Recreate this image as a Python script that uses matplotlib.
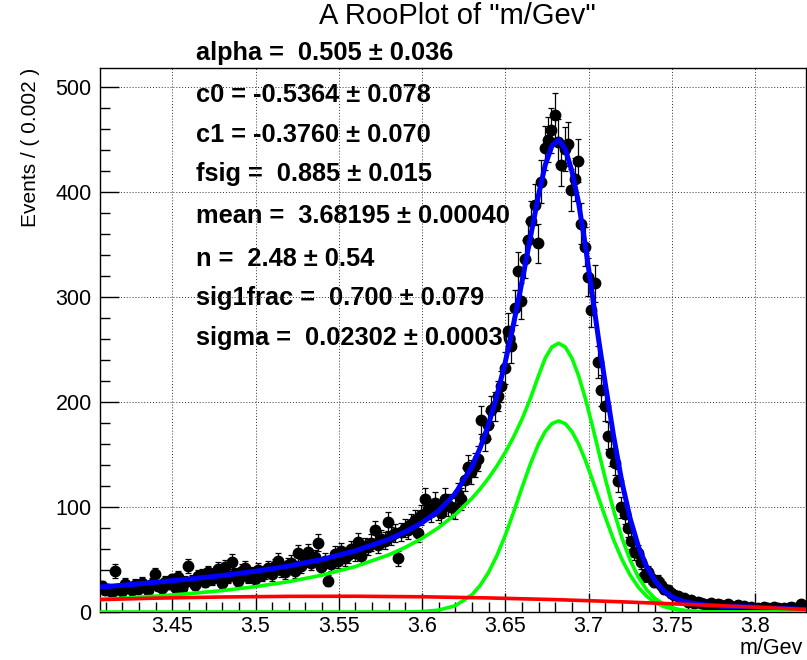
import numpy as np
import matplotlib
matplotlib.use("Agg")
import matplotlib.pyplot as plt
from matplotlib.ticker import MultipleLocator

plt.rcParams['font.family'] = ['Liberation Sans', 'DejaVu Sans']

# binned data: bins of 0.002 starting at x_lo
x_lo = 3.4066
x_hi = 3.8306
bin_width = 0.002
counts = [25, 21, 22, 19, 39, 22, 20, 27, 24, 21,
          26, 22, 28, 24, 21, 27, 36, 25, 23, 29,
          27, 31, 24, 33, 23, 29, 44, 30, 26, 34,
          35, 29, 38, 31, 34, 41, 28, 43, 33, 48,
          36, 30, 39, 42, 33, 37, 31, 40, 35, 38,
          42, 36, 44, 49, 40, 38, 45, 47, 39, 56,
          44, 50, 57, 47, 52, 66, 43, 49, 30, 46,
          55, 49, 58, 51, 54, 60, 56, 67, 53, 63,
          62, 66, 78, 64, 70, 68, 86, 72, 75, 51,
          76, 80, 78, 84, 88, 75, 92, 108, 98, 95,
          104, 97, 94, 108, 102, 100, 99, 112, 108, 126,
          138, 133, 140, 146, 183, 166, 178, 192, 196, 206,
          215, 232, 268, 253, 290, 325, 296, 336, 354, 372,
          388, 351, 410, 442, 450, 459, 473, 448, 426, 441,
          446, 402, 412, 430, 370, 348, 319, 288, 313, 238,
          211, 196, 168, 151, 142, 125, 100, 93, 80, 68,
          57, 56, 48, 34, 38, 32, 29, 30, 26, 22,
          21, 18, 16, 15, 12, 13, 10, 11, 9, 10,
          9, 8, 7, 9, 6, 8, 7, 5, 8, 6,
          5, 7, 4, 6, 3, 5, 2, 4, 3, 5,
          4, 3, 5, 4, 2, 4, 3, 5, 4, 3,
          8, 6]

# fitted curves
curve_x = [3.4066, 3.42, 3.44, 3.46, 3.48, 3.50, 3.52, 3.54, 3.56, 3.58,
           3.59, 3.60, 3.61, 3.62, 3.63, 3.635, 3.64, 3.645, 3.65, 3.655,
           3.66, 3.665, 3.67, 3.674, 3.678, 3.682, 3.686, 3.69, 3.694, 3.698,
           3.702, 3.706, 3.71, 3.715, 3.72, 3.725, 3.73, 3.735, 3.74, 3.745,
           3.75, 3.755, 3.76, 3.77, 3.78, 3.79, 3.80, 3.815, 3.8306]
total_y = [23.8, 25.4, 28.3, 31.3, 34.7, 38.8, 43.8, 50.1, 58.3, 69.2,
           76.4, 85.0, 96.4, 112.9, 138.4, 156.5, 178.9, 206.1, 238.1, 274.7,
           314.4, 356.1, 397.5, 425.8, 443.8, 449.7, 441, 420, 390, 350,
           305, 260, 218, 168, 124, 89, 62, 43, 29.5, 20.5,
           14.7, 11.0, 8.9, 6.7, 5.6, 5.1, 4.6, 3.5, 2.4]
sig1_y = [12.0, 13.1, 15.1, 17.5, 20.4, 24.2, 28.9, 35.1, 43.3, 54.4,
          61.6, 70.1, 80.4, 92.9, 108.3, 117.4, 127.6, 139.1, 152.0, 166.8,
          183.5, 203.0, 225.2, 241.8, 252.4, 256.0, 252.4, 241.8, 225.2, 203.8,
          179.3, 153.3, 127.4, 97.1, 70.8, 49.4, 32.9, 21.0, 12.8, 7.5,
          4.2, 2.2, 1.1, 0.2, 0, 0, 0, 0, 0]
sig2_y = [0, 0, 0, 0, 0, 0, 0, 0, 0, 0,
          0.05, 0.4, 1.8, 6.0, 16.4, 25.5, 37.9, 53.8, 73.1, 95.1,
          118.3, 140.7, 160.1, 171.9, 179.4, 182.0, 179.4, 171.9, 160.1, 144.9,
          127.5, 109.0, 90.6, 69.0, 50.3, 35.1, 23.4, 14.9, 9.1, 5.3,
          3.0, 1.6, 0.8, 0.2, 0, 0, 0, 0, 0]
bkg_x = [3.4066, 3.44, 3.48, 3.52, 3.56, 3.60, 3.64, 3.68, 3.72, 3.76, 3.80, 3.8306]
bkg_y = [11.8, 13.2, 14.3, 14.9, 15.0, 14.5, 13.4, 11.8, 9.7, 7.2, 4.6, 2.4]

param_names = ["alpha", "c0", "c1", "fsig", "mean", "n", "sig1frac", "sigma"]
param_values = [" 0.505", "-0.5364", "-0.3760", " 0.885", " 3.68195", " 2.48", " 0.700", " 0.02302"]
param_errors = ["0.036", "0.078", "0.070", "0.015", "0.00040", "0.54", "0.079", "0.00036"]

W, H = 807, 660
fig = plt.figure(figsize=(W / 100, H / 100), dpi=100)
fig.patch.set_facecolor('white')
ax = fig.add_axes([100 / W, 1 - 612 / H, 706 / W, (612 - 67.7) / H])
ax.set_facecolor('none')

centers = x_lo + bin_width * (np.arange(len(counts)) + 0.5)
counts = np.array(counts)
ax.errorbar(centers, counts, yerr=np.sqrt(counts), fmt='o', color='black',
            markersize=7.5, elinewidth=0.9, capsize=2.5, capthick=0.9, zorder=3)

ax.plot(curve_x, total_y, color='#0000ff', lw=3.6, zorder=4)
ax.plot(curve_x, sig1_y, color='#00ff00', lw=2.6, zorder=4)
ax.plot(curve_x, sig2_y, color='#00ff00', lw=2.6, zorder=4)
ax.plot(bkg_x, bkg_y, color='#ff0000', lw=2.6, zorder=5)

ax.set_xlim(x_lo, x_hi)
ax.set_ylim(0, 518.4)
ax.xaxis.set_major_locator(MultipleLocator(0.05))
ax.xaxis.set_minor_locator(MultipleLocator(0.01))
ax.yaxis.set_major_locator(MultipleLocator(100))
ax.yaxis.set_minor_locator(MultipleLocator(20))
ax.xaxis.set_major_formatter(matplotlib.ticker.FuncFormatter(lambda v, p: ('%.2f' % v).rstrip('0').rstrip('.')))
ax.tick_params(which='both', direction='in', top=False, right=False, labelsize=15.5)
ax.tick_params(axis='x', which='major', length=14, width=1.0, pad=3)
ax.tick_params(axis='y', which='major', length=14, width=1.0, pad=6)
ax.tick_params(which='minor', length=7, width=1.0)
ax.grid(True, which='major', color='#333333', lw=0.7, linestyle=(0, (1, 2)))
for s in ax.spines.values():
    s.set_linewidth(1.0)

fig.text(457 / W, 1 - 16 / H, 'A RooPlot of "m/Gev"', ha='center', va='center', fontsize=21)
fig.text(31 / W, 1 - 68 / H, 'Events / ( 0.002 )', rotation=90, ha='center', va='top', fontsize=15)
fig.text(803 / W, 1 - 654 / H, 'm/Gev', ha='right', va='baseline', fontsize=15.5)

# fit results box sits underneath the plotted data, as in the original
ys = [53, 95, 135, 174, 216, 259, 298, 338]
for name, val, err, yy in zip(param_names, param_values, param_errors, ys):
    fig.text(196 / W, 1 - yy / H, '%s = %s ± %s' % (name, val, err),
             ha='left', va='center', fontsize=18.3, fontweight='bold', zorder=-1)

fig.savefig("out.png", dpi=100, facecolor='white')
